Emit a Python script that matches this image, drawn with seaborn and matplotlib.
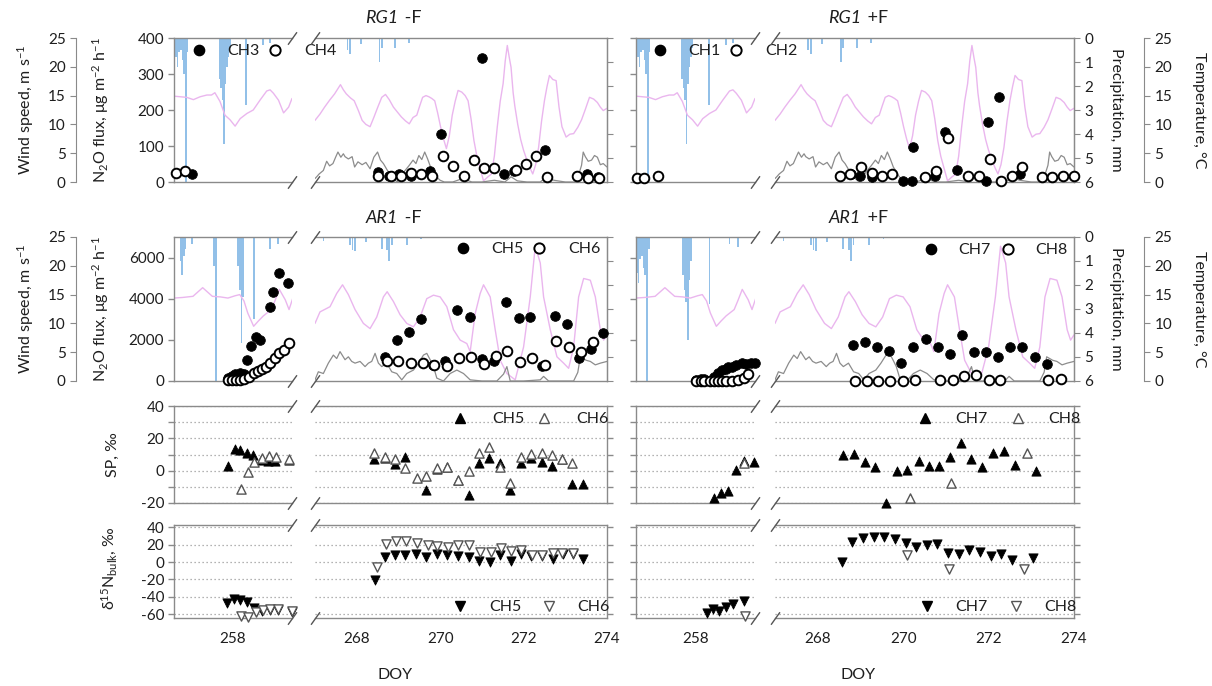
import matplotlib
matplotlib.use("Agg")
import matplotlib.pyplot as plt
from matplotlib.lines import Line2D
from matplotlib.ticker import FuncFormatter
import seaborn as sns

# ====================== DATA (DOY, value) ======================
# Precipitation, mm
RG_PREC_N = [(256.65, 0.8), (256.68, 1.2), (256.72, 0.6), (256.76, 0.5), (256.80, 0.9), (256.84, 1.5),
             (256.88, 6.0), (256.92, 0.6), (257.69, 1.7), (257.72, 2.1), (257.76, 2.6), (257.79, 4.4),
             (257.82, 1.9), (257.85, 1.2), (257.89, 0.8), (257.93, 0.4), (258.31, 2.8), (258.71, 0.3),
             (258.88, 0.2)]
RG_PREC_W = [(267.78, 0.5), (267.84, 0.65), (268.10, 0.25), (268.55, 1.0), (268.60, 0.4), (268.92, 0.4),
             (269.25, 0.2)]
ARM_PREC_N = [(256.76, 1.0), (256.79, 1.6), (256.83, 0.8), (256.87, 0.5), (257.02, 0.3), (257.55, 1.2),
              (257.60, 6.0), (258.12, 1.2), (258.16, 2.2), (258.20, 4.4), (258.24, 2.5), (258.50, 3.4),
              (258.88, 0.5), (259.07, 0.3)]
ARP_PREC_N = [(256.63, 1.5), (256.66, 1.9), (256.70, 0.9), (256.74, 0.8), (256.78, 1.3), (256.82, 1.6),
              (256.86, 6.0), (256.90, 0.5), (257.70, 1.6), (257.74, 2.2), (257.78, 2.7), (257.82, 4.3),
              (257.86, 1.8), (257.90, 1.0), (258.33, 2.8), (258.80, 0.3), (259.00, 0.4)]
AR_PREC_W = [(267.20, 0.15), (267.84, 0.35), (267.90, 0.55), (267.96, 0.6), (268.22, 0.2), (268.60, 0.5),
             (268.73, 0.55), (268.78, 1.0), (268.84, 0.35), (269.20, 0.35), (269.54, 0.1)]

# Temperature, degC
RG_TEMP_N = [(256.60, 14.9), (256.90, 14.7), (257.06, 14.3), (257.22, 14.8), (257.38, 15.1), (257.49, 15.1),
             (257.57, 15.5), (257.69, 14.0), (257.81, 11.6), (257.93, 10.8), (258.05, 9.7), (258.17, 11.0),
             (258.33, 11.9), (258.48, 12.5), (258.64, 14.2), (258.80, 15.8), (258.88, 16.0), (258.96, 15.4),
             (259.08, 14.2), (259.20, 12.0), (259.32, 13.0), (259.40, 14.5)]
RG_TEMP_W = [(267.00, 10.7), (267.12, 11.8), (267.23, 13.0), (267.35, 14.2), (267.47, 15.3), (267.61, 16.9),
             (267.68, 16.0), (267.75, 15.3), (267.85, 14.6), (267.94, 14.1), (268.04, 12.4), (268.13, 10.7),
             (268.22, 10.0), (268.32, 9.6), (268.41, 11.2), (268.50, 12.9), (268.60, 14.7), (268.69, 15.2),
             (268.78, 14.3), (268.88, 13.0), (268.98, 12.1), (269.07, 11.3), (269.17, 10.6), (269.26, 10.1),
             (269.35, 11.2), (269.44, 11.6), (269.51, 13.2), (269.58, 14.7), (269.66, 15.0), (269.73, 14.8),
             (269.80, 14.5), (269.87, 14.1), (269.94, 12.0), (270.01, 9.6), (270.08, 7.5), (270.15, 5.8),
             (270.22, 8.0), (270.29, 11.6), (270.36, 14.0), (270.43, 15.9), (270.52, 15.6), (270.60, 15.0),
             (270.67, 14.1), (270.74, 11.0), (270.81, 7.2), (270.88, 4.5), (270.95, 2.6), (271.04, 0.2),
             (271.13, 0.8), (271.23, 1.4), (271.30, 4.5), (271.37, 9.6), (271.44, 14.0), (271.51, 17.1),
             (271.56, 21.0), (271.61, 23.7), (271.66, 21.5), (271.70, 19.9), (271.75, 15.5), (271.79, 13.2),
             (271.86, 10.0), (271.93, 7.4), (272.00, 5.5), (272.08, 3.8), (272.15, 2.5), (272.22, 1.4),
             (272.29, 3.0), (272.36, 6.0), (272.43, 10.5), (272.50, 14.1), (272.56, 16.5), (272.62, 18.5),
             (272.70, 17.8), (272.78, 17.6), (272.85, 13.0), (272.92, 9.6), (273.02, 7.8), (273.11, 8.3),
             (273.20, 8.4), (273.30, 9.5), (273.39, 10.8), (273.48, 12.6), (273.58, 14.7), (273.68, 14.4),
             (273.77, 13.8), (273.84, 13.0), (273.91, 12.4), (274.00, 12.8)]
AR_TEMP_N = [(256.60, 14.4), (256.80, 14.5), (257.05, 14.7), (257.28, 16.2), (257.51, 14.7), (257.70, 14.6),
             (257.88, 14.4), (258.05, 14.8), (258.16, 15.0), (258.26, 13.9), (258.35, 11.8), (258.49, 9.5),
             (258.60, 10.4), (258.72, 11.3), (258.91, 12.4), (259.00, 14.0), (259.10, 15.9), (259.24, 14.1),
             (259.33, 12.4), (259.42, 14.4)]
AR_TEMP_W = [(267.00, 10.0), (267.12, 12.0), (267.36, 12.9), (267.52, 15.2), (267.66, 16.7), (267.80, 15.0),
             (267.96, 12.4), (268.16, 10.0), (268.32, 9.1), (268.48, 11.1), (268.64, 14.6), (268.73, 15.5),
             (268.88, 13.8), (269.04, 11.5), (269.20, 10.0), (269.36, 9.4), (269.52, 11.1), (269.68, 14.3),
             (269.84, 14.9), (270.00, 14.6), (270.16, 12.9), (270.32, 8.9), (270.48, 7.1), (270.64, 6.5),
             (270.72, 5.1), (270.84, 11.7), (270.96, 15.2), (271.04, 16.7), (271.20, 14.6), (271.32, 8.9),
             (271.44, 3.6), (271.60, 1.3), (271.80, 0.2), (272.00, 5.9), (272.16, 14.6), (272.28, 23.4),
             (272.40, 20.5), (272.48, 14.6), (272.64, 8.9), (272.80, 4.2), (272.96, 3.1), (273.08, 2.2),
             (273.20, 5.9), (273.32, 14.6), (273.44, 17.8), (273.60, 17.5), (273.72, 14.6), (273.84, 8.9),
             (273.92, 7.1), (274.00, 8.0)]

# Wind speed, m/s
RG_WIND = [(267.00, 0.6), (267.04, 0.9), (267.10, 1.4), (267.20, 2.0), (267.28, 3.6), (267.35, 2.8),
           (267.43, 3.2), (267.50, 4.4), (267.55, 5.2), (267.62, 4.3), (267.68, 4.9), (267.72, 4.4),
           (267.80, 4.0), (267.89, 4.4), (267.95, 2.6), (268.03, 3.5), (268.13, 3.0), (268.22, 3.4),
           (268.32, 2.3), (268.41, 4.3), (268.50, 5.2), (268.57, 3.8), (268.64, 3.2), (268.72, 2.2),
           (268.79, 1.4), (268.88, 0.6), (268.97, 0.0), (269.06, 1.0), (269.16, 2.0), (269.25, 2.8),
           (269.35, 3.8), (269.42, 3.2), (269.49, 4.6), (269.56, 3.9), (269.63, 5.2), (269.70, 4.0),
           (269.77, 2.6), (269.84, 1.8), (269.91, 0.9), (270.00, 0.3), (270.10, 0.0), (270.30, 0.0),
           (270.50, 0.5), (270.57, 0.9), (270.65, 0.3), (270.76, 0.0), (271.00, 0.0), (271.30, 0.3),
           (271.55, 0.0), (271.70, 0.9), (271.85, 0.2), (272.08, 0.0), (272.40, 0.0), (272.55, 0.9),
           (272.65, 0.5), (272.73, 0.3), (273.00, 0.0), (273.25, 0.0), (273.33, 1.5), (273.39, 2.9),
           (273.43, 5.2), (273.48, 4.4), (273.55, 3.6), (273.63, 3.8), (273.70, 4.6), (273.77, 4.3),
           (273.84, 3.0), (273.91, 3.2), (274.00, 2.6)]
AR_WIND = [(267.00, 0.2), (267.08, 1.6), (267.20, 1.3), (267.32, 3.1), (267.44, 4.5), (267.52, 3.9),
           (267.60, 5.1), (267.72, 3.7), (267.80, 4.2), (267.88, 3.4), (267.96, 3.1), (268.08, 3.4),
           (268.20, 2.5), (268.28, 3.1), (268.36, 3.4), (268.44, 4.8), (268.52, 3.1), (268.60, 2.5),
           (268.72, 3.1), (268.84, 1.6), (268.96, 1.3), (269.08, 0.2), (269.20, 1.3), (269.36, 1.9),
           (269.48, 3.1), (269.60, 4.5), (269.68, 4.8), (269.76, 3.7), (269.84, 2.5), (269.92, 0.5),
           (270.08, 0.0), (270.24, 1.3), (270.40, 1.9), (270.56, 1.3), (270.72, 0.2), (271.00, 0.0),
           (271.36, 0.0), (271.52, 1.2), (271.60, 2.5), (271.68, 0.0), (272.00, 0.0), (272.40, 0.2),
           (272.48, 0.8), (272.60, 0.0), (273.20, 0.0), (273.30, 1.5), (273.36, 4.2), (273.50, 3.6),
           (273.60, 3.4), (273.72, 2.8), (273.84, 3.1), (274.00, 3.4)]

# N2O flux, ug m-2 h-1
CH3_N = [(257.03, 22)]
CH4_N = [(256.65, 25), (256.86, 30)]
CH3_W = [(268.52, 28), (268.78, 18), (269.02, 23), (269.29, 18), (269.76, 30), (270.03, 132), (271.00, 344),
         (271.52, 21), (271.78, 30), (272.52, 88), (273.27, 18), (273.52, 21), (273.78, 14)]
CH4_W = [(268.52, 18), (268.81, 16), (269.05, 16), (269.31, 25), (269.55, 21), (269.81, 18), (270.07, 72),
         (270.30, 44), (270.57, 18), (270.81, 62), (271.05, 39), (271.29, 39), (271.81, 32), (272.05, 49),
         (272.30, 71), (272.57, 14), (273.29, 16), (273.55, 12), (273.81, 12)]
CH1_N = []
CH2_N = [(256.62, 12), (256.79, 12), (257.12, 18)]
CH1_W = [(268.52, 18), (268.79, 21), (269.00, 16), (269.26, 14), (269.99, 2), (270.20, 2), (270.24, 97),
         (270.50, 14), (270.74, 16), (270.99, 139), (271.26, 32), (271.95, 2), (271.98, 166), (272.24, 236),
         (272.73, 23), (273.25, 14), (273.48, 14), (273.75, 16), (274.00, 16)]
CH2_W = [(268.52, 16), (268.76, 23), (269.02, 42), (269.26, 25), (269.51, 16), (269.74, 21), (270.50, 14),
         (270.76, 30), (271.04, 123), (271.51, 16), (271.77, 18), (272.03, 65), (272.28, 2), (272.55, 18),
         (272.78, 42), (273.25, 14), (273.48, 14), (273.75, 18), (274.00, 16)]
CH5_N = [(257.89, 130), (257.97, 240), (258.05, 340), (258.17, 370), (258.27, 340), (258.33, 1020),
         (258.42, 1720), (258.54, 2120), (258.65, 1990), (258.87, 3580), (258.96, 4340), (259.10, 5270),
         (259.31, 4750)]
CH6_N = [(257.89, 50), (257.97, 50), (258.06, 50), (258.17, 50), (258.27, 80), (258.39, 210), (258.50, 370),
         (258.60, 490), (258.69, 570), (258.79, 700), (258.87, 860), (258.99, 1100), (259.10, 1340),
         (259.21, 1510), (259.34, 1860)]
CH5_W = [(268.68, 1150), (268.97, 1990), (269.25, 2380), (269.54, 3000), (269.83, 780), (270.12, 990),
         (270.41, 3450), (270.72, 3130), (271.01, 1050), (271.28, 990), (271.58, 3840), (271.88, 3050),
         (272.16, 3130), (272.45, 750), (272.75, 3160), (273.04, 2750), (273.32, 1100), (273.61, 1560),
         (273.90, 2320)]
CH6_W = [(268.72, 990), (269.00, 970), (269.30, 890), (269.58, 860), (269.86, 780), (270.17, 730),
         (270.46, 1130), (270.75, 1150), (271.04, 810), (271.33, 1230), (271.61, 1470), (271.92, 940),
         (272.20, 1100), (272.51, 780), (272.78, 1960), (273.08, 1670), (273.37, 1390), (273.66, 1910)]
CH7_N = [(258.02, 50), (258.12, 80), (258.21, 80), (258.44, 210), (258.54, 370), (258.63, 530), (258.71, 570),
         (258.77, 700), (258.86, 700), (258.96, 780), (259.10, 860), (259.19, 830), (259.30, 890), (259.39, 860)]
CH8_N = [(258.02, 0), (258.12, 0), (258.21, 0), (258.35, 0), (258.44, 0), (258.54, 0), (258.63, 0), (258.72, 0),
         (258.86, 0), (259.00, 50), (259.14, 130), (259.23, 320)]
CH7_W = [(268.83, 1750), (269.11, 1900), (269.38, 1670), (269.67, 1470), (269.95, 860), (270.24, 1670),
         (270.53, 2025), (270.81, 1670), (271.10, 1310), (271.37, 2220), (271.66, 1430), (271.94, 1430),
         (272.23, 1150), (272.50, 1670), (272.79, 1670), (273.09, 1180), (273.36, 830)]
CH8_W = [(268.87, 20), (269.15, 20), (269.42, 20), (269.69, 20), (269.99, 20), (270.28, 50), (270.86, 50),
         (271.16, 50), (271.43, 260), (271.70, 290), (272.00, 50), (272.27, 50), (273.40, 50), (273.70, 80)]

# Site preference SP, permil
SP5_N = [(257.88, 2.8), (258.04, 13.1), (258.17, 12.7), (258.33, 11.0), (258.48, 9.6), (258.67, 6.5),
         (258.83, 6.1), (258.99, 6.1), (259.33, 6.5)]
SP6_N = [(258.20, -11.1), (258.36, -0.8), (258.50, 5.4), (258.69, 7.9), (258.85, 9.2), (259.03, 8.5),
         (259.34, 7.5)]
SP5_W = [(268.41, 7.2), (268.67, 7.6), (268.92, 4.1), (269.16, 8.3), (269.67, -11.9), (269.93, 1.0),
         (270.17, 2.5), (270.43, -5.8), (270.69, -14.9), (270.92, 4.6), (271.17, 7.7), (271.43, 4.6),
         (271.67, -12.0), (271.93, 4.6), (272.19, 7.7), (272.45, 5.2), (272.69, 3.1), (272.92, 7.2),
         (273.17, -8.3), (273.43, -8.3)]
SP6_W = [(268.41, 10.8), (268.67, 8.3), (268.92, 7.2), (269.16, 1.7), (269.45, -4.6), (269.67, -3.1),
         (269.93, 1.7), (270.17, 2.5), (270.43, -5.8), (270.69, -0.4), (270.92, 10.8), (271.17, 14.5),
         (271.43, 2.5), (271.67, -7.9), (271.93, 8.3), (272.19, 10.3), (272.45, 10.8), (272.69, 9.9),
         (272.92, 7.2), (273.17, 4.6)]
SP7_N = [(258.44, -16.6), (258.60, -14.1), (258.77, -12.4), (258.96, 0.4), (259.14, 6.2), (259.37, 5.2)]
SP8_N = [(259.14, 5.0)]
SP7_W = [(268.60, 9.7), (268.85, 10.3), (269.10, 5.2), (269.35, 2.5), (269.60, -19.7), (269.85, 0.0),
         (270.10, 0.6), (270.36, 5.8), (270.60, 3.1), (270.83, 3.1), (271.09, 8.3), (271.35, 17.0),
         (271.60, 7.2), (271.84, 2.1), (272.10, 10.8), (272.36, 12.4), (272.61, 3.5), (273.11, -0.4)]
SP8_W = [(270.15, -17.0), (271.13, -7.9), (272.90, 11.0)]

# d15N bulk, permil
D5_N = [(257.86, -47.4), (258.03, -42.8), (258.17, -44.3), (258.33, -46.6), (258.50, -53.1), (258.69, -56.9),
        (258.88, -55.0), (259.07, -55.8), (259.40, -57.7)]
D6_N = [(258.20, -62.4), (258.36, -64.0), (258.55, -58.1), (258.71, -55.0), (258.88, -54.2), (259.07, -53.8),
        (259.40, -57.0)]
D5_W = [(268.43, -21.3), (268.67, 5.5), (268.92, 8.5), (269.16, 8.2), (269.43, 9.3), (269.67, 6.3),
        (269.93, 9.3), (270.17, 8.2), (270.43, 7.0), (270.69, 5.5), (270.92, 1.7), (271.19, 0.5),
        (271.43, 8.2), (271.69, 1.7), (271.93, 8.9), (272.19, 7.0), (272.43, 7.0), (272.70, 3.2),
        (272.95, 8.9), (273.19, 9.3), (273.43, 3.2)]
D6_W = [(268.48, -6.0), (268.71, 20.8), (268.95, 24.7), (269.19, 24.7), (269.45, 21.6), (269.70, 19.7),
        (269.93, 18.5), (270.19, 17.7), (270.43, 19.7), (270.69, 19.7), (270.95, 12.0), (271.21, 12.0),
        (271.46, 15.8), (271.70, 13.1), (271.95, 13.9), (272.21, 8.2), (272.45, 8.2), (272.70, 10.8),
        (272.92, 10.1), (273.19, 10.1)]
D7_N = [(258.26, -58.8), (258.42, -54.2), (258.56, -56.9), (258.72, -52.3), (258.89, -48.5), (259.14, -45.4)]
D8_N = [(259.17, -61.8)]
D7_W = [(268.56, -0.2), (268.81, 23.5), (269.06, 27.4), (269.31, 28.5), (269.56, 28.5), (269.80, 26.2),
        (270.06, 21.6), (270.31, 17.0), (270.55, 19.7), (270.80, 20.8), (271.04, 10.8), (271.30, 9.3),
        (271.55, 13.9), (271.80, 12.0), (272.05, 7.0), (272.30, 9.3), (272.55, 2.5), (273.05, 5.1)]
D8_W = [(270.10, 8.2), (271.08, -7.6), (272.83, -8.4)]

TITLES = [[("RG1", " -F"), ("AR1", " -F")], [("RG1", " +F"), ("AR1", " +F")]]
CH_LABELS = [[("CH3", "CH4"), ("CH5", "CH6")], [("CH1", "CH2"), ("CH7", "CH8")]]
XN_TICKS = [258]
XW_TICKS = [268, 269, 270, 271, 272, 273, 274]
XW_LABELS = ["268", "", "270", "", "272", "", "274"]

# ====================== STYLE ======================
sns.set_style("white")
plt.rcParams["font.family"] = ["Lato", "DejaVu Sans"]
plt.rcParams["mathtext.default"] = "regular"
plt.rcParams["axes.unicode_minus"] = False

W, H = 1212, 686
fig = plt.figure(figsize=(W / 100, H / 100), dpi=100)

SPC = "#8a8a8a"
TXT = "#1e1e1e"
TEMP_C = "#eab6ee"
WIND_C = "#8c8c8c"
PREC_C = "#92c0e8"
FS = 11
FSL = 11.5


def xs(d):
    return [p[0] for p in d]


def ys(d):
    return [p[1] for p in d]


def box(x0, x1, y0, y1):
    return [x0 / W, 1 - y1 / H, (x1 - x0) / W, (y1 - y0) / H]


GX = [((174, 292), (315, 607)), ((636, 755), (775, 1074))]
RY = [(38, 182), (237, 381), (406, 503), (525, 618)]
XN, XW = (256.6, 259.4), (267.0, 274.0)


def pts(ax, d, marker, filled, s=48, ec="black"):
    if not d:
        return
    if filled:
        sns.scatterplot(x=xs(d), y=ys(d), ax=ax, marker=marker, s=s, color="black",
                        edgecolor="black", linewidth=0.6, zorder=4, legend=False, clip_on=False)
    else:
        sns.scatterplot(x=xs(d), y=ys(d), ax=ax, marker=marker, s=s, color="white",
                        edgecolor=ec, linewidth=1.4 if marker == "o" else 1.0, zorder=5,
                        legend=False, clip_on=False)


def env(ax, kind, temp, wind, prec, prec_labels):
    tp = ax.twinx()
    tt = ax.twinx()
    for t in (tp, tt):
        for sp in t.spines.values():
            sp.set_visible(False)
        t.tick_params(left=False, right=False, labelleft=False, labelright=False)
    tp.bar(xs(prec), ys(prec), width=0.04, color=PREC_C, linewidth=0)
    tp.set_ylim(6, 0)
    sns.lineplot(x=xs(temp), y=ys(temp), ax=tt, color=TEMP_C, lw=1.0, errorbar=None, legend=False)
    if wind is not None:
        sns.lineplot(x=xs(wind), y=ys(wind), ax=tt, color=WIND_C, lw=0.9, errorbar=None, legend=False)
    tt.set_ylim(0, 25)
    tt.set_ylabel("")
    tp.set_ylabel("")
    if kind == "w":
        tp.spines["right"].set_visible(True)
        tp.spines["right"].set_color(SPC)
        tp.set_yticks(range(7))
        tp.tick_params(right=True, labelright=prec_labels, direction="out", length=4,
                       color=SPC, labelcolor=TXT, labelsize=FS)
    return tp, tt


def style_main(ax, kind, g, r):
    for sp in ax.spines.values():
        sp.set_color(SPC)
        sp.set_linewidth(1.0)
    ax.tick_params(axis="both", which="both", direction="out", length=4, width=1, colors=SPC,
                   labelcolor=TXT, labelsize=FS, top=False, pad=3)
    ax.tick_params(axis="x", pad=6)
    if kind == "n":
        ax.spines["right"].set_visible(False)
        ax.tick_params(axis="y", left=True, right=False, labelright=False, labelleft=(g == 0))
        ax.set_xticks(XN_TICKS)
        if r == 3:
            ax.set_xticklabels([str(t) for t in XN_TICKS])
    else:
        ax.spines["left"].set_visible(False)
        ax.tick_params(axis="y", left=False, labelleft=False, right=(r >= 2), labelright=False)
        ax.set_xticks(XW_TICKS)
        if r == 3:
            ax.set_xticklabels(XW_LABELS)
    if r < 3:
        ax.tick_params(axis="x", labelbottom=False)
    if r == 0:
        ax.set_ylim(0, 400)
        ax.set_yticks([0, 100, 200, 300, 400])
    elif r == 1:
        ax.set_ylim(0, 7000)
        ax.set_yticks([0, 2000, 4000, 6000])
    elif r == 2:
        ax.set_ylim(-20, 40)
        ax.set_yticks(range(-20, 41, 10))
        ax.yaxis.set_major_formatter(FuncFormatter(lambda v, p: f"{int(v)}" if int(v) % 20 == 0 else ""))
        ax.yaxis.grid(True, linestyle=(0, (1, 2.2)), color="#9a9a9a", lw=0.9)
    else:
        ax.set_ylim(-64.6, 42.7)
        ax.set_yticks(range(-60, 41, 20))
        ax.yaxis.grid(True, linestyle=(0, (1, 2.2)), color="#9a9a9a", lw=0.9)
    ax.set_xlim(*(XN if kind == "n" else XW))
    ax.set_xlabel("")
    ax.set_ylabel("")


def brk(ax, xa):
    ax.plot([xa, xa], [0, 1], transform=ax.transAxes, marker=[(-1, -1.4), (1, 1.4)], markersize=9,
            ls="none", color="#555555", mec="#555555", mew=1.0, clip_on=False, zorder=20)


def legend(ax, handles, labels, mx, my, tpad, colsp):
    fpx = FSL * 100 / 72
    ax.legend(handles, labels, ncol=2, frameon=False, loc="center left",
              bbox_to_anchor=((mx - 0.5 * fpx) / W, 1 - my / H), bbox_transform=fig.transFigure,
              borderpad=0, borderaxespad=0, handlelength=1.0, handletextpad=tpad,
              columnspacing=colsp, fontsize=FSL, labelcolor=TXT)


def h(marker, filled, ec="black"):
    return Line2D([], [], marker=marker, ls="none", ms=7.4 if marker == "o" else 7.5,
                  mfc="black" if filled else "white", mec=ec, mew=1.4 if (marker == "o" and not filled) else 1.0)


FLUX = {
    (0, 0): ((CH3_N, CH4_N), (CH3_W, CH4_W)),
    (1, 0): ((CH1_N, CH2_N), (CH1_W, CH2_W)),
    (0, 1): ((CH5_N, CH6_N), (CH5_W, CH6_W)),
    (1, 1): ((CH7_N, CH8_N), (CH7_W, CH8_W)),
}
SPD = {0: ((SP5_N, SP6_N), (SP5_W, SP6_W)), 1: ((SP7_N, SP8_N), (SP7_W, SP8_W))}
DND = {0: ((D5_N, D6_N), (D5_W, D6_W)), 1: ((D7_N, D8_N), (D7_W, D8_W))}
ENV = {
    (0, 0): (RG_TEMP_N, RG_PREC_N, RG_TEMP_W, RG_WIND, RG_PREC_W),
    (1, 0): (RG_TEMP_N, RG_PREC_N, RG_TEMP_W, RG_WIND, RG_PREC_W),
    (0, 1): (AR_TEMP_N, ARM_PREC_N, AR_TEMP_W, AR_WIND, AR_PREC_W),
    (1, 1): (AR_TEMP_N, ARP_PREC_N, AR_TEMP_W, AR_WIND, AR_PREC_W),
}
# legend: first-marker centre x, y (px), handletextpad, columnspacing
LEG_POS = {
    (0, 0): (199, 51, 1.3, 0.45), (1, 0): (660, 51, 1.3, 0.45),
    (0, 1): (463, 249, 1.3, 0.45), (1, 1): (931, 250, 1.2, 0.6),
    (0, 2): (460, 419, 1.5, 0.75), (1, 2): (925, 419, 1.4, 1.4),
    (0, 3): (460, 607, 1.3, 1.25), (1, 3): (927, 607, 1.3, 1.25),
}

for g in range(2):
    (nx0, nx1), (wx0, wx1) = GX[g]
    for r in range(4):
        y0, y1 = RY[r]
        axn = fig.add_axes(box(nx0, nx1, y0, y1))
        axw = fig.add_axes(box(wx0, wx1, y0, y1))
        if r < 2:
            tn, pn, tw_, ww, pw = ENV[(g, r)]
            env(axn, "n", tn, None, pn, False)
            env(axw, "w", tw_, ww, pw, g == 1)
            for a in (axn, axw):
                a.set_zorder(5)
                a.patch.set_visible(False)
            (fn, on), (fw, ow) = FLUX[(g, r)]
            pts(axn, fn, "o", True)
            pts(axn, on, "o", False)
            pts(axw, fw, "o", True)
            pts(axw, ow, "o", False)
            if g == 0:
                wsc = axn.twinx()
                wsc.set_ylim(0, 25)
                wsc.set_yticks(range(0, 26, 5))
                for sp in wsc.spines.values():
                    sp.set_visible(False)
                wsc.spines["left"].set_visible(True)
                wsc.spines["left"].set_color(SPC)
                wsc.spines["left"].set_position(("outward", 70.5))
                wsc.yaxis.set_ticks_position("left")
                wsc.tick_params(axis="y", direction="out", length=4, color=SPC,
                                labelcolor=TXT, labelsize=FS)
            else:
                tsc = axw.twinx()
                tsc.set_ylim(0, 25)
                tsc.set_yticks(range(0, 26, 5))
                for sp in tsc.spines.values():
                    sp.set_visible(False)
                tsc.spines["right"].set_visible(True)
                tsc.spines["right"].set_color(SPC)
                tsc.spines["right"].set_position(("outward", 50.4))
                tsc.tick_params(axis="y", direction="out", length=4, color=SPC,
                                labelcolor=TXT, labelsize=FS)
            hs = [h("o", True), h("o", False)]
        else:
            src = SPD[g] if r == 2 else DND[g]
            mk = "^" if r == 2 else "v"
            (fn, on), (fw, ow) = src
            pts(axn, fn, mk, True, s=44)
            pts(axn, on, mk, False, s=44, ec="#555555")
            pts(axw, fw, mk, True, s=44)
            pts(axw, ow, mk, False, s=44, ec="#555555")
            hs = [h(mk, True), h(mk, False, "#555555")]
        style_main(axn, "n", g, r)
        style_main(axw, "w", g, r)
        brk(axn, 1.0)
        brk(axw, 0.0)
        mx, my, tpad, cs = LEG_POS[(g, r)]
        legend(axw, hs, list(CH_LABELS[g][min(r, 1)]), mx, my, tpad, cs)

# ---- titles ----
TITLE_Y = [18, 218]
for g, cx in enumerate([392, 855]):
    for r in range(2):
        it, rest = TITLES[g][r]
        fig.text((cx + 6) / W, 1 - TITLE_Y[r] / H, it, ha="right", va="center", fontsize=13,
                 style="italic", color=TXT)
        fig.text((cx + 8) / W, 1 - TITLE_Y[r] / H, rest, ha="left", va="center", fontsize=13, color=TXT)

# ---- axis labels ----
for r, cy in enumerate([110, 309]):
    fig.text(26 / W, 1 - cy / H, "Wind speed, m s$^{-1}$", rotation=90, ha="center", va="center",
             fontsize=FSL, color=TXT)
    fig.text(101 / W, 1 - cy / H, "N$_2$O flux, μg m$^{-2}$ h$^{-1}$", rotation=90, ha="center",
             va="center", fontsize=FSL, color=TXT)
    fig.text(1116 / W, 1 - cy / H, "Precipitation, mm", rotation=270, ha="center", va="center",
             fontsize=FSL, color=TXT)
    fig.text(1199 / W, 1 - cy / H, "Temperature, °C", rotation=270, ha="center", va="center",
             fontsize=FSL, color=TXT)
fig.text(113 / W, 1 - 455 / H, "SP, ‰", rotation=90, ha="center", va="center", fontsize=FSL, color=TXT)
fig.text(109 / W, 1 - 568 / H, "δ$^{15}$N$_{bulk}$, ‰", rotation=90, ha="center", va="center",
         fontsize=FSL, color=TXT)
for cx in [395, 858]:
    fig.text(cx / W, 1 - 675 / H, "DOY", ha="center", va="center", fontsize=FSL, color=TXT)

fig.savefig("out.png", dpi=100, facecolor="white")
